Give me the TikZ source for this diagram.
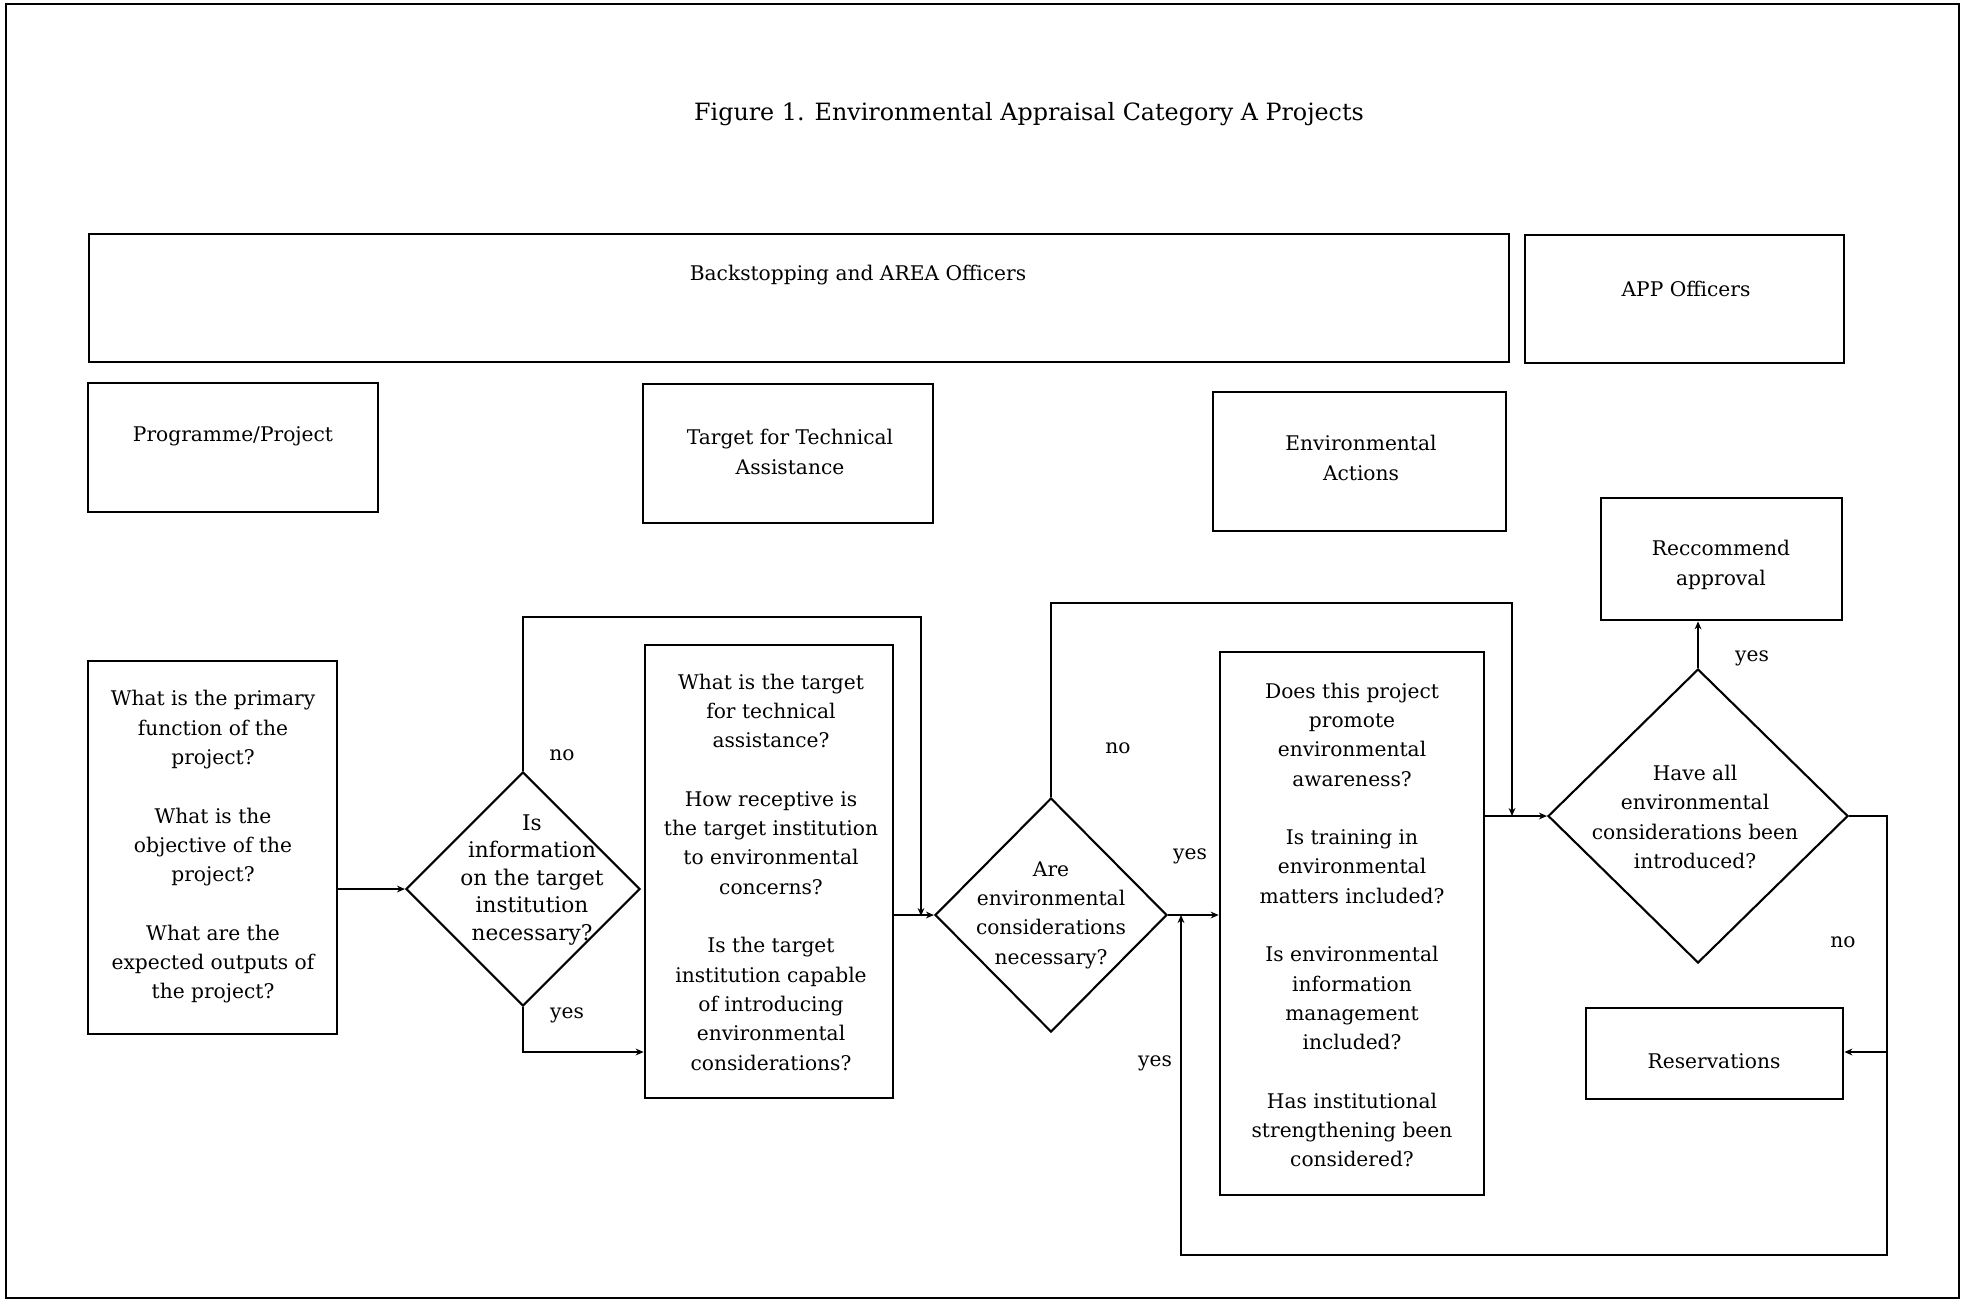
\documentclass[tikz,border=0pt]{standalone}
\usepackage{fontspec}
\setmainfont{DejaVu Serif}
\usetikzlibrary{shapes.geometric,arrows.meta}

\begin{document}
\begin{tikzpicture}[x=0.5pt,y=-0.5pt,
  every node/.style={font=\fontsize{10.1pt}{14.65pt}\selectfont},
  box/.style={draw, line width=1.35pt, inner sep=0pt},
  dia/.style={draw, diamond, line width=1.05pt, inner sep=0pt},
  txt/.style={align=center, inner sep=0pt},
  lab/.style={inner sep=0pt},
  arr/.style={line width=1.05pt, -{Stealth[length=4pt,width=3.4pt]}}
]
\useasboundingbox (0,0) rectangle (1963,1303);
\draw[line width=1.1pt] (6,4) rectangle (1959,1298);

% title
\node[txt, font=\fontsize{11.9pt}{14pt}\selectfont] (title) at (1029,114) {Figure 1. Environmental Appraisal Category A Projects};

% header boxes
\node[box, minimum width=710pt, minimum height=64pt] (back) at (799,298) {};
\node[txt] (backt) at (858,275) {Backstopping and AREA Officers};
\node[box, minimum width=159.5pt, minimum height=64pt] (app) at (1684.5,299) {};
\node[txt] (appt) at (1686,289) {APP Officers};

\node[box, minimum width=145pt, minimum height=64.5pt] (prog) at (233,447.5) {};
\node[txt] (progt) at (233,436) {Programme/Project};
\node[box, minimum width=145pt, minimum height=69.5pt] (targ) at (788,453.5) {};
\node[txt] (targt) at (790,452) {Target for Technical\\Assistance};
\node[box, minimum width=146.5pt, minimum height=69.5pt] (env) at (1359.5,461.5) {};
\node[txt] (envt) at (1361,458) {Environmental\\Actions};
\node[box, minimum width=120.5pt, minimum height=61pt] (rec) at (1721.5,559) {};
\node[txt] (rect) at (1721,565) {Reccommend\\approval};

% question boxes
\node[box, minimum width=124.5pt, minimum height=186.5pt] (q1) at (212.5,847.5) {};
\node[txt] (q1t) at (213,847) {What is the primary\\function of the\\project?\\[14.65pt]What is the\\objective of the\\project?\\[14.65pt]What are the\\expected outputs of\\the project?};

\node[box, minimum width=124pt, minimum height=226.5pt] (q2) at (769,871.5) {};
\node[txt] (q2t) at (771,872) {What is the target\\for technical\\assistance?\\[14.65pt]How receptive is\\the target institution\\to environmental\\concerns?\\[14.65pt]Is the target\\institution capable\\of introducing\\environmental\\considerations?};

\node[box, minimum width=132pt, minimum height=271.5pt] (q3) at (1352,923.5) {};
\node[txt] (q3t) at (1352,925) {Does this project\\promote\\environmental\\awareness?\\[14.65pt]Is training in\\environmental\\matters included?\\[14.65pt]Is environmental\\information\\management\\included?\\[14.65pt]Has institutional\\strengthening been\\considered?};

\node[box, minimum width=128.5pt, minimum height=45.5pt] (res) at (1714.5,1053.5) {};
\node[txt] (rest) at (1714,1061) {Reservations};

% decisions
\node[dia, minimum width=117pt, minimum height=117pt] (d1) at (523,889) {};
\node[txt, font=\fontsize{10.8pt}{13.75pt}\selectfont] (d1t) at (532,880) {Is\\information\\on the target\\institution\\necessary?};
\node[dia, minimum width=116pt, minimum height=117pt] (d2) at (1051,915) {};
\node[txt] (d2t) at (1051,915) {Are\\environmental\\considerations\\necessary?};
\node[dia, minimum width=150pt, minimum height=147pt] (d3) at (1698,816) {};
\node[txt] (d3t) at (1695,817) {Have all\\environmental\\considerations been\\introduced?};

% junction points of the routed connectors
\coordinate (n1) at (921,617);
\coordinate (j1) at (921,916);
\coordinate (y1) at (0,1052);
\coordinate (n2) at (1512,603);
\coordinate (j2) at (1512,816);
\coordinate (c1) at (1887,1255);
\coordinate (c2) at (1181,1255);
\coordinate (c3) at (1181,915);
\coordinate (b1) at (1887,1052);

% connectors
\draw[arr] (q1.east |- d1.west) -- (d1.west);
\draw[arr] (d1.north) |- (n1) -- (j1);
\draw[arr] (d1.south) |- (q2.west |- y1);
\draw[arr] (q2.east |- d2.west) -- (d2.west);
\draw[arr] (d2.east) -- (q3.west |- d2.east);
\draw[arr] (d2.north) |- (n2) -- (j2);
\draw[arr] (q3.east |- d3.west) -- (d3.west);
\draw[arr] (d3.north) -- (d3.north |- rec.south);
\draw[arr] (d3.east) -| (c1) -- (c2) -- (c3);
\draw[arr] (b1) -- (res.east |- b1);

% branch labels
\node[lab] (l1) at (562,755) {no};
\node[lab] (l2) at (567,1015) {yes};
\node[lab] (l3) at (1118,748) {no};
\node[lab] (l4) at (1190,856) {yes};
\node[lab] (l5) at (1155,1063) {yes};
\node[lab] (l6) at (1752,658) {yes};
\node[lab] (l7) at (1843,942) {no};
\end{tikzpicture}
\end{document}
